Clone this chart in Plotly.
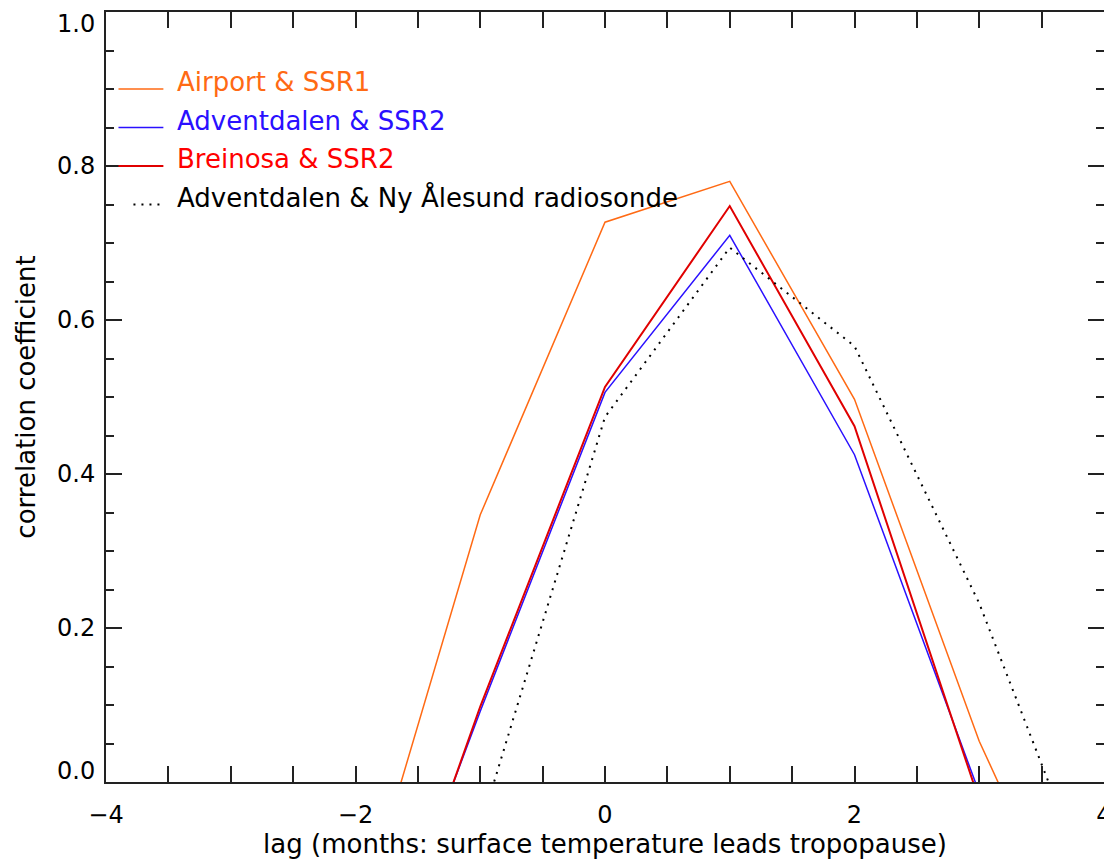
import plotly.graph_objects as go

# ---------------- data ----------------
lags = [-2, -1, 0, 1, 2, 3, 4]
airport_ssr1 = [-0.20, 0.347, 0.727, 0.780, 0.497, 0.053, -0.30]
adventdalen_ssr2 = [-0.34, 0.092, 0.506, 0.710, 0.425, -0.014, None]
breinosa_ssr2 = [-0.36, 0.098, 0.513, 0.748, 0.462, -0.024, None]
adventdalen_radiosonde = [None, -0.059, 0.474, 0.694, 0.566, 0.232, -0.186]

series_names = ["Airport & SSR1", "Adventdalen & SSR2", "Breinosa & SSR2",
                "Adventdalen & Ny Ålesund radiosonde"]
series_values = [airport_ssr1, adventdalen_ssr2, breinosa_ssr2, adventdalen_radiosonde]
line_colors = ["#ff6a14", "#2a10ff", "#e00000", "#000000"]
text_colors = ["#ff6a14", "#2a10ff", "#ff0000", "#000000"]
line_widths = [1.5, 1.5, 2.0, 2.0]
line_dashes = ["solid", "solid", "solid", "2px,6px"]
legend_y = [0.9, 0.85, 0.8, 0.75]

x_tickvals = [-4, -2, 0, 2, 4]
y_tickvals = [0.0, 0.2, 0.4, 0.6, 0.8, 1.0]
y_ticktext = ["0.0", "0.2", "0.4", "0.6", "0.8", "1.0"]

x_title = "lag (months: surface temperature leads tropopause)"
y_title = "correlation coefficient"

FONT = "DejaVu Sans"
AX = "#222222"

fig = go.Figure()
for name, vals, c, w, d in zip(series_names, series_values, line_colors, line_widths, line_dashes):
    fig.add_trace(go.Scatter(x=lags, y=vals, mode="lines", name=name,
                             line=dict(color=c, width=w, dash=d),
                             connectgaps=False, showlegend=False, cliponaxis=True))

# dummy trace to activate right-hand tick axis
fig.add_trace(go.Scatter(x=[None], y=[None], yaxis="y2", showlegend=False, hoverinfo="skip"))

# in-plot legend (data coordinates, like the original)
for name, c, tc, w, d, ly in zip(series_names, line_colors, text_colors, line_widths, line_dashes, legend_y):
    if d == "solid":
        fig.add_shape(type="line", xref="x", yref="y", x0=-3.9, x1=-3.54, y0=ly, y1=ly,
                      line=dict(color=c, width=w))
    else:
        fig.add_shape(type="line", xref="x", yref="y", x0=-3.78, x1=-3.54, y0=ly, y1=ly,
                      line=dict(color=c, width=2, dash="2px,6px"))
    fig.add_annotation(x=-3.445, y=ly, xref="x", yref="y", text=name, showarrow=False,
                       xanchor="left", yanchor="bottom", yshift=-10,
                       font=dict(family=FONT, size=26, color=tc))

# end labels of the y axis are nudged inward (as in the original); middle ones are regular tick labels
shown_ticktext = [t if v not in (y_tickvals[0], y_tickvals[-1]) else "" for v, t in zip(y_tickvals, y_ticktext)]
fig.add_annotation(x=0, xref="paper", y=y_tickvals[-1], yref="y", text=y_ticktext[-1], showarrow=False,
                   xanchor="right", yanchor="top", xshift=-9, yshift=4,
                   font=dict(family=FONT, size=24, color="#000000"))
fig.add_annotation(x=0, xref="paper", y=y_tickvals[0], yref="y", text=y_ticktext[0], showarrow=False,
                   xanchor="right", yanchor="bottom", xshift=-9, yshift=-5,
                   font=dict(family=FONT, size=24, color="#000000"))

fig.update_layout(
    width=1104, height=859,
    margin=dict(l=106, r=0, t=12, b=77),
    plot_bgcolor="white", paper_bgcolor="white",
    font=dict(family=FONT, size=24, color="#000000"),
    xaxis=dict(range=[-4, 4], tickmode="array", tickvals=x_tickvals, ticks="inside", ticklen=16,
               tickwidth=1.5, tickcolor=AX, showline=True, linecolor=AX, linewidth=2, mirror="allticks",
               showgrid=False, zeroline=False, ticklabelstandoff=10, ticklabeloverflow="allow",
               automargin=False,
               minor=dict(dtick=0.5, tick0=-4, ticks="inside", ticklen=8, tickwidth=1.5, tickcolor=AX,
                          showgrid=False),
               title=dict(text=x_title, standoff=8, font=dict(size=26))),
    yaxis=dict(range=[0, 1], tickmode="array", tickvals=y_tickvals, ticktext=shown_ticktext,
               ticks="inside", ticklen=16, tickwidth=1.5,
               tickcolor=AX, showline=True, linecolor=AX, linewidth=2, mirror=False,
               showgrid=False, zeroline=False, ticklabelstandoff=4, ticklabeloverflow="allow",
               automargin=False,
               minor=dict(dtick=0.05, tick0=0, ticks="inside", ticklen=8, tickwidth=1.5, tickcolor=AX,
                          showgrid=False),
               title=dict(text=y_title, standoff=14, font=dict(size=26))),
    yaxis2=dict(range=[0, 1], tickmode="array", tickvals=y_tickvals, overlaying="y", side="right",
                anchor="x", ticks="inside", ticklen=16, tickwidth=1.5, tickcolor=AX, showline=False,
                showgrid=False, zeroline=False, showticklabels=False, automargin=False,
                minor=dict(dtick=0.05, tick0=0, ticks="inside", ticklen=8, tickwidth=1.5, tickcolor=AX,
                           showgrid=False)),
)

fig.write_html("out.html")
